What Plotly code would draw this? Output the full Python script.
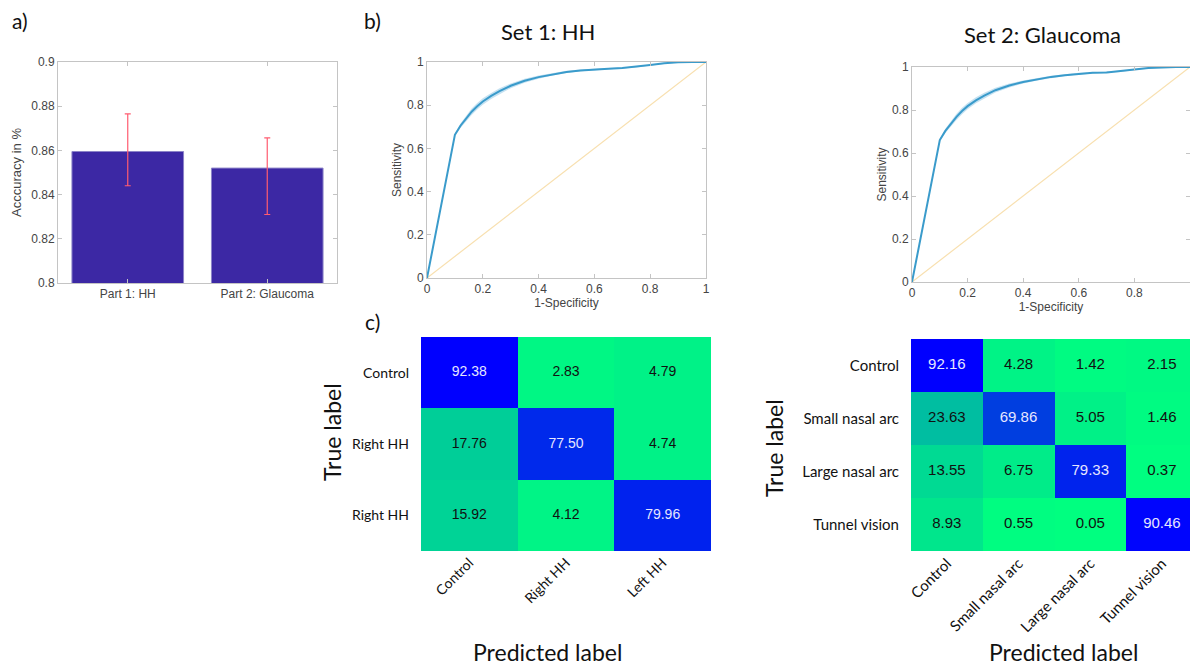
import plotly.graph_objects as go

W, H = 1190, 667

# ---------------- data ----------------
bar_categories = ["Part 1: HH", "Part 2: Glaucoma"]
bar_values = [0.8595, 0.852]
bar_err_upper = [0.8765, 0.8657]
bar_err_lower = [0.844, 0.831]

roc_fpr = [0, 0.1, 0.12, 0.14, 0.16, 0.18, 0.2, 0.23, 0.26, 0.3, 0.35, 0.4, 0.45, 0.5,
           0.55, 0.6, 0.65, 0.7, 0.75, 0.8, 0.85, 0.9, 0.95, 1.0]
roc1_tpr = [0, 0.663, 0.705, 0.74, 0.77, 0.795, 0.817, 0.843, 0.865, 0.89, 0.913, 0.93, 0.943, 0.954,
            0.961, 0.966, 0.969, 0.972, 0.978, 0.986, 0.994, 0.999, 1.0, 1.0]
roc2_tpr = [0, 0.66, 0.703, 0.738, 0.768, 0.795, 0.818, 0.845, 0.867, 0.892, 0.914, 0.93, 0.943, 0.954,
            0.962, 0.969, 0.973, 0.975, 0.98, 0.988, 0.995, 0.999, 1.0, 1.0]
roc_band = [0, 0.006, 0.01, 0.013, 0.015, 0.015, 0.015, 0.014, 0.013, 0.011, 0.009, 0.007, 0.006, 0.005,
            0.004, 0.004, 0.003, 0.003, 0.003, 0.002, 0.002, 0.001, 0, 0]

cm1_true = ["Control", "Right HH", "Right HH"]
cm1_pred = ["Control", "Right HH", "Left HH"]
cm1_values = [[92.38, 2.83, 4.79],
              [17.76, 77.50, 4.74],
              [15.92, 4.12, 79.96]]

cm2_true = ["Control", "Small nasal arc", "Large nasal arc", "Tunnel vision"]
cm2_pred = ["Control", "Small nasal arc", "Large nasal arc", "Tunnel vision"]
cm2_values = [[92.16, 4.28, 1.42, 2.15],
              [23.63, 69.86, 5.05, 1.46],
              [13.55, 6.75, 79.33, 0.37],
              [8.93, 0.55, 0.05, 90.46]]

# ---------------- helpers ----------------
def dx(a, b):
    return [a / W, min(b / W, 1.0)]

def dy(top, bottom):
    return [1 - bottom / H, 1 - top / H]

NUMF = "Liberation Sans, Arial, sans-serif"
CALF = "Lato, Open Sans, sans-serif"
AX_LINE = "#c4c4c4"
TICK_TXT = "#444444"

fig = go.Figure()

# ---------------- a) bar chart ----------------
fig.add_trace(go.Bar(
    x=[1, 2], y=bar_values, width=0.8,
    marker=dict(color="#3c28a4", line=dict(color="#8c84c8", width=1)),
    error_y=dict(type="data", symmetric=False,
                 array=[u - v for u, v in zip(bar_err_upper, bar_values)],
                 arrayminus=[v - l for v, l in zip(bar_values, bar_err_lower)],
                 color="#ff5c70", thickness=1.2, width=3),
    xaxis="x", yaxis="y", showlegend=False))

# ---------------- b) ROC curves ----------------
def add_roc(tpr, xa, ya):
    upper = [min(t + b, 1.0) for t, b in zip(tpr, roc_band)]
    lower = [t - b for t, b in zip(tpr, roc_band)]
    fig.add_trace(go.Scatter(x=roc_fpr, y=upper, mode="lines", line=dict(width=0),
                             xaxis=xa, yaxis=ya, showlegend=False, hoverinfo="skip"))
    fig.add_trace(go.Scatter(x=roc_fpr, y=lower, mode="lines", line=dict(width=0),
                             fill="tonexty", fillcolor="rgba(90,170,215,0.35)",
                             xaxis=xa, yaxis=ya, showlegend=False, hoverinfo="skip"))
    fig.add_trace(go.Scatter(x=[0, 1], y=[0, 1], mode="lines", line=dict(color="#f8e0b0", width=1.2),
                             xaxis=xa, yaxis=ya, showlegend=False))
    fig.add_trace(go.Scatter(x=roc_fpr, y=tpr, mode="lines",
                             line=dict(color="#3a9bcb", width=2),
                             xaxis=xa, yaxis=ya, showlegend=False))

add_roc(roc1_tpr, "x2", "y2")
add_roc(roc2_tpr, "x3", "y3")

# ---------------- c) confusion matrices ----------------
winter_r = [[0, "rgb(0,255,128)"], [1, "rgb(0,0,255)"]]

def add_cm(vals, xa, ya, fsize):
    n_r, n_c = len(vals), len(vals[0])
    zmax = max(max(r) for r in vals)
    fig.add_trace(go.Heatmap(z=vals, x=list(range(n_c)), y=list(range(n_r)),
                             colorscale=winter_r, zmin=0, zmax=zmax, showscale=False,
                             xaxis=xa, yaxis=ya, hoverinfo="skip"))
    xs, ys, ts, cs = [], [], [], []
    for i, row in enumerate(vals):
        for j, v in enumerate(row):
            xs.append(j); ys.append(i); ts.append(f"{v:.2f}")
            cs.append("#e6e6ff" if v / zmax > 0.55 else "#111111")
    fig.add_trace(go.Scatter(x=xs, y=ys, text=ts, mode="text",
                             textfont=dict(family=NUMF, size=fsize, color=cs),
                             xaxis=xa, yaxis=ya, showlegend=False, hoverinfo="skip"))

add_cm(cm1_values, "x4", "y4", 14)
add_cm(cm2_values, "x5", "y5", 15)

# ---------------- axes ----------------
def box_axis(**kw):
    base = dict(showline=True, linecolor=AX_LINE, linewidth=1, mirror="ticks",
                ticks="inside", ticklen=4, tickcolor=AX_LINE, showgrid=False, zeroline=False,
                automargin=False, tickfont=dict(family=NUMF, size=12, color=TICK_TXT))
    base.update(kw)
    return base

def cm_axis(**kw):
    base = dict(showgrid=False, zeroline=False, ticks="", automargin=False, showline=False)
    base.update(kw)
    return base

ax_title_font = dict(family=NUMF, size=12, color=TICK_TXT)

fig.update_layout(
    width=W, height=H, margin=dict(l=0, r=0, t=0, b=0, autoexpand=False),
    paper_bgcolor="white", plot_bgcolor="white",
    xaxis=box_axis(domain=dx(58, 337), range=[0.5, 2.5], tickvals=[1, 2], ticktext=bar_categories,
                   anchor="y"),
    yaxis=box_axis(domain=dy(62, 283), range=[0.8, 0.9], dtick=0.02, tick0=0.8, anchor="x",
                   title=dict(text="Acccuracy in %", font=dict(family=NUMF, size=13, color=TICK_TXT), standoff=6)),
    xaxis2=box_axis(domain=dx(427, 706), range=[0, 1], dtick=0.2, anchor="y2",
                    title=dict(text="1-Specificity", font=ax_title_font, standoff=2)),
    yaxis2=box_axis(domain=dy(62, 278), range=[0, 1], dtick=0.2, anchor="x2",
                    title=dict(text="Sensitivity", font=ax_title_font, standoff=2)),
    xaxis3=box_axis(domain=dx(912, 1191), range=[0, 1], dtick=0.2, anchor="y3",
                    title=dict(text="1-Specificity", font=ax_title_font, standoff=2)),
    yaxis3=box_axis(domain=dy(67, 282), range=[0, 1], dtick=0.2, anchor="x3",
                    title=dict(text="Sensitivity", font=ax_title_font, standoff=2)),
    xaxis4=cm_axis(domain=dx(421, 711), range=[-0.5, 2.5], anchor="y4",
                   tickvals=list(range(len(cm1_pred))), ticktext=cm1_pred, tickangle=-45,
                   tickfont=dict(family=CALF, size=14, color="#111111")),
    yaxis4=cm_axis(domain=dy(337, 551), range=[2.5, -0.5], anchor="x4", ticklabelstandoff=11,
                   tickvals=list(range(len(cm1_true))), ticktext=cm1_true,
                   tickfont=dict(family=CALF, size=14, color="#111111")),
    xaxis5=cm_axis(domain=dx(911, 1190), range=[-0.5, -0.5 + 279 / 71.7], anchor="y5",
                   tickvals=list(range(len(cm2_pred))), ticktext=cm2_pred, tickangle=-45,
                   tickfont=dict(family=CALF, size=15, color="#111111")),
    yaxis5=cm_axis(domain=dy(339, 551), range=[3.5, -0.5], anchor="x5", ticklabelstandoff=11,
                   tickvals=list(range(len(cm2_true))), ticktext=cm2_true,
                   tickfont=dict(family=CALF, size=15, color="#111111")),
)

def ann(text, x, y, size, angle=0, family=CALF, color="#111111", xanchor="center"):
    fig.add_annotation(text=text, x=x / W, y=1 - y / H, xref="paper", yref="paper",
                       showarrow=False, textangle=angle, xanchor=xanchor, yanchor="middle",
                       font=dict(family=family, size=size, color=color))

ann("a)", 20, 20, 21)
ann("b)", 372, 20, 21)
ann("c)", 372, 321, 21)
ann("Set 1: HH", 548, 31, 22)
ann("Set 2: Glaucoma", 1042, 34, 22)
ann("True label", 332, 432, 23, angle=-90)
ann("True label", 774, 448, 23, angle=-90)
ann("Predicted label", 547, 652, 23)
ann("Predicted label", 1063, 652, 23)

fig.write_html("out.html", config={"displayModeBar": False},
               post_script="document.body.style.margin='0';document.body.style.overflow='hidden';")
